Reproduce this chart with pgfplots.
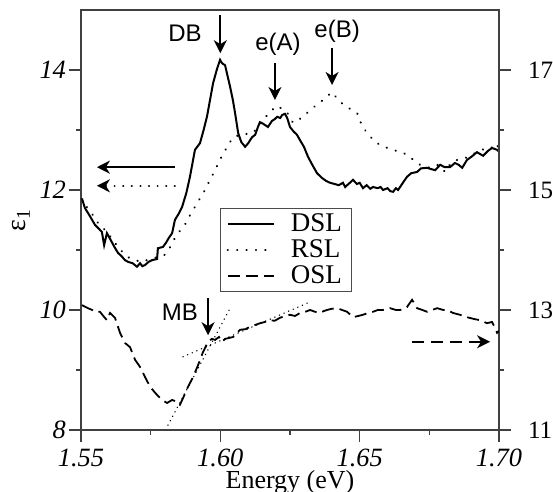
\documentclass[border=0pt]{standalone}
\usepackage{pgfplots}
\pgfplotsset{compat=1.18}
\usepackage{fontspec}
\setmainfont{Liberation Serif}
\newfontfamily\arial{Liberation Sans}
\usetikzlibrary{arrows.meta}

\pgfplotsset{
  mybase/.style={
    scale only axis, width=209pt, height=210pt,
    xmin=1.55, xmax=1.70,
    tick align=outside,
    major tick length=6pt, minor tick length=2.5pt,
    every tick/.style={black!75, line width=0.6pt},
    axis line style={black!75, line width=0.6pt},
    /pgf/number format/assume math mode=true,
  },
}
\tikzset{
  dsl/.style={black, line width=1pt},
  rsl/.style={black, line width=1.1pt, line cap=round, dash pattern=on 0.1pt off 4.6pt},
  osl/.style={black, line width=0.9pt, dash pattern=on 6pt off 3pt},
  tangent/.style={black, line width=0.7pt, line cap=round, dash pattern=on 0.1pt off 2.4pt},
  arr/.style={black, line width=1pt, -{Stealth[length=6.5pt,width=6.5pt,inset=2pt]}},
}

\begin{document}
\begin{tikzpicture}
\begin{axis}[mybase, name=main,
  ymin=8, ymax=15,
  xtick={1.55,1.60,1.65,1.70}, xticklabels={1.55,1.60,1.65,1.70},
  minor xtick={1.575,1.625,1.675},
  ytick={8,10,12,14}, minor ytick={9,11,13},
  xtick pos=left, ytick pos=left,
  ticklabel style={font=\fontsize{13.2}{14}\selectfont\itshape},
  yticklabel style={xshift=2pt},
  xlabel={Energy (eV)}, ylabel={ε\textsubscript{1}},
  xlabel style={font=\fontsize{13}{14}\selectfont, yshift=5pt},
  ylabel style={font=\fontsize{14}{15}\selectfont, yshift=-2pt},
]
% DSL
\addplot[dsl] coordinates {
(1.5504,11.85)(1.5514,11.70)(1.5530,11.58)(1.5550,11.42)(1.5565,11.35)(1.5575,11.30)
(1.5583,11.08)(1.5593,11.28)(1.5605,11.18)(1.5620,11.05)(1.5633,10.95)(1.5645,10.90)
(1.5658,10.83)(1.5670,10.80)(1.5685,10.78)(1.5701,10.72)(1.5712,10.78)(1.5720,10.73)
(1.5730,10.75)(1.5742,10.80)(1.5755,10.83)(1.5773,10.85)(1.5776,11.03)(1.5794,11.05)
(1.5805,11.12)(1.5815,11.20)(1.5827,11.28)(1.5837,11.50)(1.5850,11.60)(1.5863,11.72)
(1.5878,11.95)(1.5891,12.22)(1.5909,12.67)(1.5927,12.78)(1.5940,13.00)(1.5952,13.22)
(1.5963,13.50)(1.5974,13.78)(1.5987,14.00)(1.5999,14.17)(1.6005,14.12)(1.6010,14.10)
(1.6017,14.08)(1.6025,13.92)(1.6035,13.72)(1.6045,13.50)(1.6053,13.28)(1.6064,12.95)
(1.6075,12.80)(1.6089,12.72)(1.6100,12.78)(1.6114,12.88)(1.6125,12.92)(1.6135,13.05)
(1.6142,13.13)(1.6155,13.10)(1.6171,13.05)(1.6185,13.15)(1.6195,13.18)(1.6204,13.22)
(1.6215,13.20)(1.6222,13.25)(1.6232,13.27)(1.6240,13.20)(1.6250,13.05)(1.6262,12.98)
(1.6275,12.92)(1.6286,12.83)(1.6300,12.72)(1.6315,12.55)(1.6330,12.42)(1.6347,12.28)
(1.6365,12.20)(1.6380,12.15)(1.6394,12.12)(1.6410,12.10)(1.6425,12.08)(1.6440,12.12)
(1.6448,12.05)(1.6455,12.08)(1.6465,12.12)(1.6476,12.17)(1.6490,12.10)(1.6500,12.12)
(1.6512,12.03)(1.6525,12.08)(1.6538,12.02)(1.6548,12.05)(1.6565,12.03)(1.6575,12.05)
(1.6584,12.00)(1.6600,12.03)(1.6610,11.98)(1.6620,11.97)(1.6630,12.03)(1.6638,12.00)
(1.6655,12.12)(1.6670,12.22)(1.6685,12.28)(1.6706,12.30)(1.6720,12.36)(1.6742,12.37)
(1.6755,12.35)(1.6771,12.33)(1.6789,12.42)(1.6805,12.38)(1.6824,12.38)(1.6842,12.45)
(1.6855,12.42)(1.6868,12.37)(1.6885,12.50)(1.6900,12.55)(1.6921,12.63)(1.6932,12.60)
(1.6943,12.57)(1.6960,12.65)(1.6975,12.70)(1.6993,12.67)(1.7004,12.62)
};
% RSL
\addplot[rsl] coordinates {
(1.5504,11.85)(1.5520,11.72)(1.5543,11.58)(1.5561,11.45)(1.5580,11.36)(1.5597,11.28)
(1.5615,11.16)(1.5633,11.05)(1.5650,10.96)(1.5669,10.88)(1.5695,10.83)(1.5719,10.80)
(1.5742,10.84)(1.5766,10.87)(1.5785,10.90)(1.5801,10.92)(1.5820,11.05)(1.5837,11.20)
(1.5855,11.32)(1.5873,11.42)(1.5891,11.58)(1.5909,11.72)(1.5927,11.86)(1.5945,12.00)
(1.5963,12.17)(1.5981,12.33)(1.5995,12.47)(1.6010,12.60)(1.6028,12.75)(1.6046,12.88)
(1.6065,12.91)(1.6081,12.92)(1.6100,12.94)(1.6117,12.95)(1.6135,13.05)(1.6153,13.17)
(1.6175,13.28)(1.6200,13.40)(1.6220,13.36)(1.6239,13.30)(1.6250,13.20)(1.6261,13.12)
(1.6280,13.17)(1.6297,13.22)(1.6315,13.30)(1.6333,13.37)(1.6350,13.44)(1.6369,13.50)
(1.6385,13.57)(1.6400,13.63)(1.6415,13.55)(1.6435,13.45)(1.6455,13.38)(1.6475,13.33)
(1.6491,13.28)(1.6500,13.17)(1.6512,13.03)(1.6530,12.95)(1.6548,12.83)(1.6573,12.75)
(1.6600,12.70)(1.6620,12.67)(1.6640,12.64)(1.6656,12.62)(1.6681,12.55)(1.6700,12.47)
(1.6717,12.42)(1.6735,12.39)(1.6753,12.37)(1.6768,12.40)(1.6781,12.42)(1.6795,12.36)
(1.6807,12.30)(1.6820,12.40)(1.6832,12.47)(1.6850,12.50)(1.6878,12.53)(1.6900,12.58)
(1.6921,12.63)(1.6945,12.68)(1.6968,12.72)(1.6993,12.67)(1.7000,12.85)
};
% tangents at MB
\addplot[tangent] coordinates {(1.5812,8.08)(1.6035,10.03)};
\addplot[tangent] coordinates {(1.5866,9.22)(1.6315,10.12)};

% annotations
\draw[arr] (axis cs:1.5837,12.38) -- (axis cs:1.5557,12.38);
\draw[arr, line cap=round, dash pattern=on 0.1pt off 4.2pt] (axis cs:1.5837,12.07) -- (axis cs:1.5557,12.07);
\draw[arr] (axis cs:1.6000,14.92) -- (axis cs:1.6000,14.28);
\draw[arr] (axis cs:1.6196,14.12) -- (axis cs:1.6196,13.50);
\draw[arr] (axis cs:1.6401,14.37) -- (axis cs:1.6401,13.75);
\draw[arr] (axis cs:1.5956,10.20) -- (axis cs:1.5956,9.58);
\node[font=\arial\fontsize{12}{13}\selectfont] at (axis cs:1.5873,14.62) {DB};
\node[font=\arial\fontsize{12}{13}\selectfont] at (axis cs:1.6207,14.43) {e(A)};
\node[font=\arial\fontsize{12}{13}\selectfont] at (axis cs:1.6419,14.65) {e(B)};
\node[font=\arial\fontsize{12}{13}\selectfont] at (axis cs:1.5855,9.97) {MB};
\end{axis}

\begin{axis}[mybase,
  ymin=11, ymax=18,
  axis y line*=right, axis x line=none,
  ytick={11,13,15,17}, minor ytick={12,14,16},
  yticklabel style={font=\fontsize{12.5}{14}\selectfont, xshift=5pt},
  legend style={at={(rel axis cs:0.3325,0.5286)}, anchor=north west,
    draw=black!70, line width=0.6pt, font=\fontsize{13.5}{13.5}\selectfont,
    inner xsep=3pt, inner ysep=0.5pt, row sep=-1.5pt, cells={anchor=west}},
  legend image code/.code={\draw[#1] (0pt,0pt) -- (23pt,0pt); \path (29pt,0pt);},
]
\addlegendimage{dsl}\addlegendentry{DSL}
\addlegendimage{rsl}\addlegendentry{RSL}
% OSL (right axis)
\addplot[osl] coordinates {
(1.5504,13.08)(1.5525,13.03)(1.5540,13.00)(1.5550,12.97)(1.5568,12.97)(1.5580,12.90)
(1.5593,12.83)(1.5604,12.95)(1.5622,12.87)(1.5640,12.62)(1.5658,12.45)(1.5676,12.38)
(1.5694,12.17)(1.5712,12.05)(1.5730,11.88)(1.5748,11.72)(1.5766,11.62)(1.5780,11.55)
(1.5791,11.50)(1.5809,11.45)(1.5827,11.50)(1.5845,11.47)(1.5855,11.42)(1.5866,11.53)
(1.5884,11.72)(1.5902,11.88)(1.5920,12.08)(1.5938,12.30)(1.5956,12.47)(1.5970,12.52)
(1.5981,12.50)(1.5995,12.55)(1.6006,12.47)(1.6018,12.52)(1.6028,12.53)(1.6046,12.55)
(1.6060,12.62)(1.6071,12.67)(1.6090,12.68)(1.6107,12.72)(1.6125,12.75)(1.6143,12.78)
(1.6160,12.80)(1.6178,12.83)(1.6195,12.82)(1.6214,12.87)(1.6232,12.90)(1.6250,12.92)
(1.6268,12.90)(1.6286,12.95)(1.6305,12.97)(1.6322,13.00)(1.6340,12.97)(1.6358,12.95)
(1.6370,12.98)(1.6383,13.00)(1.6400,13.02)(1.6419,13.03)(1.6437,13.00)(1.6455,12.97)
(1.6476,12.88)(1.6495,12.90)(1.6512,12.92)(1.6530,12.95)(1.6548,12.97)(1.6565,13.00)
(1.6584,13.00)(1.6609,13.03)(1.6630,13.00)(1.6645,13.00)(1.6660,13.02)(1.6670,13.05)
(1.6688,13.17)(1.6700,13.08)(1.6706,13.03)(1.6725,13.00)(1.6742,12.97)(1.6760,13.00)
(1.6778,13.03)(1.6800,13.00)(1.6814,13.00)(1.6835,12.95)(1.6860,12.92)(1.6885,12.88)
(1.6910,12.85)(1.6932,12.83)(1.6957,12.78)(1.6975,12.80)(1.6986,12.70)(1.6993,12.62)
(1.7000,12.65)
};
\addlegendentry{OSL}
\draw[arr, dash pattern=on 6pt off 3.5pt] (axis cs:1.6688,12.47) -- (axis cs:1.6968,12.47);
\end{axis}

\pgfresetboundingbox
\path[use as bounding box] ([xshift=-40.5pt,yshift=-31pt]main.south west)
  rectangle ([xshift=27pt,yshift=5pt]main.north east);
\end{tikzpicture}
\end{document}
